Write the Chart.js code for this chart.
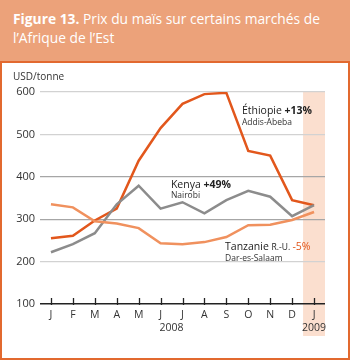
<!DOCTYPE html>
<html>
<head>
<meta charset="utf-8">
<script src="https://cdn.jsdelivr.net/npm/chart.js@4"></script>
<style>
  body { margin: 0; width: 350px; height: 360px; position: relative; overflow: hidden; background: #fff; font-family: "Open Sans", sans-serif; }
  #title { position: absolute; left: 0; top: 0; width: 350px; height: 61px; background: #eca27a; color: #fff;
           font-size: 13.8px; line-height: 19px; padding: 9px 0 0 13px; box-sizing: border-box; }
  #title b { font-weight: 700; }
  #frame { position: absolute; left: 0; top: 61px; width: 350px; height: 299px; border: 2px solid #e2692f; box-sizing: border-box; }
  #wrap { position: absolute; left: 0; top: 0; width: 350px; height: 360px; }
</style>
</head>
<body>
<div id="title"><b>Figure 13.</b> Prix du maïs sur certains marchés de<br>l’Afrique de l’Est</div>
<div id="frame"></div>
<div id="wrap"><canvas id="chart"></canvas></div>
<script>
// monthly maize prices, USD/tonne, Jan 2008 - Jan 2009
const months = ['J', 'F', 'M', 'A', 'M', 'J', 'J', 'A', 'S', 'O', 'N', 'D', 'J'];
const ethiopia = [255, 261, 297, 325, 438, 515, 572, 595, 598, 461, 450, 345, 333];
const kenya = [222, 241, 267, 335, 379, 325, 340, 314, 345, 367, 353, 307, 333];
const tanzania = [335, 328, 295, 290, 279, 243, 241, 246, 258, 286, 287, 298, 317];
const yTicks = [100, 200, 300, 400, 500, 600];

const FONT = '"Open Sans", sans-serif';

// shaded 2009 column, tick marks, labels
const extras = {
  id: 'extras',
  beforeDraw(chart) {
    const { ctx, chartArea, scales } = chart;
    const x = scales.x;
    const left = (x.getPixelForValue(11) + x.getPixelForValue(12)) / 2;
    ctx.save();
    ctx.fillStyle = '#fbdfcf';
    ctx.fillRect(left, chartArea.top, chartArea.right - left, 336 - chartArea.top);
    ctx.restore();
  },
  afterDraw(chart) {
    const { ctx, chartArea, scales } = chart;
    const x = scales.x, y = scales.y;
    ctx.save();
    // tick marks
    ctx.strokeStyle = '#222';
    ctx.lineWidth = 1.3;
    months.forEach((m, i) => {
      const px = Math.round(x.getPixelForValue(i)) + 0.5;
      ctx.beginPath();
      ctx.moveTo(px, chartArea.bottom - 6);
      ctx.lineTo(px, chartArea.bottom + 1);
      ctx.stroke();
    });
    ctx.fillStyle = '#333';
    ctx.textBaseline = 'middle';
    ctx.font = '10px ' + FONT;
    ctx.fillText('USD/tonne', 13, 77);
    ctx.textAlign = 'center';
    ctx.font = '10.5px ' + FONT;
    ctx.fillText('2008', x.getPixelForValue(5.5), 328);
    ctx.fillText('2009', x.getPixelForValue(12), 328);
    ctx.textAlign = 'left';

    function label(idx, val, parts, sub) {
      let px = x.getPixelForValue(idx);
      const py = y.getPixelForValue(val);
      parts.forEach(p => {
        ctx.font = (p.bold ? 'bold ' : '') + (p.size || 10.5) + 'px ' + FONT;
        ctx.fillStyle = p.color || '#222';
        ctx.fillText(p.text, px, py);
        px += ctx.measureText(p.text).width;
      });
      ctx.font = '8.5px ' + FONT;
      ctx.fillStyle = '#333';
      ctx.fillText(sub, x.getPixelForValue(idx), py + 11);
    }
    label(8.71, 555, [{ text: 'Éthiopie ' }, { text: '+13%', bold: true }], 'Addis-Abeba');
    label(5.47, 381, [{ text: 'Kenya ' }, { text: '+49%', bold: true }], 'Nairobi');
    label(7.94, 234, [{ text: 'Tanzanie ' }, { text: 'R.-U. ', size: 8.5 }, { text: '-5%', color: '#e2571c' }], 'Dar-es-Salaam');
    ctx.restore();
  }
};

new Chart(document.getElementById('chart'), {
  type: 'line',
  data: {
    labels: months,
    datasets: [
      { label: 'Tanzanie', data: tanzania, borderColor: '#f0915e', borderWidth: 2.5 },
      { label: 'Kenya', data: kenya, borderColor: '#8c8c8c', borderWidth: 2.5 },
      { label: 'Éthiopie', data: ethiopia, borderColor: '#e2571c', borderWidth: 2.5 },
    ],
  },
  options: {
    responsive: true,
    maintainAspectRatio: false,
    animation: false,
    elements: { point: { radius: 0 }, line: { tension: 0 } },
    layout: { padding: { top: 92, right: 25, bottom: 0, left: 0 } },
    plugins: { legend: { display: false }, tooltip: { enabled: false } },
    scales: {
      x: {
        offset: true,
        grid: { display: false, drawTicks: false },
        border: { display: false },
        ticks: { color: '#333', font: { family: FONT, size: 10.5 }, padding: 5, maxRotation: 0, autoSkip: false },
        afterFit: (s) => { s.height = 56; },
      },
      y: {
        min: 100,
        max: 600,
        afterBuildTicks: (s) => { s.ticks = yTicks.map(v => ({ value: v })); },
        grid: {
          drawTicks: false,
          color: (c) => c.tick.value === 100 ? '#222' : (c.tick.value === 300 || c.tick.value === 400 ? '#a6a6a6' : '#d2d2d2'),
          lineWidth: (c) => c.tick.value === 100 ? 1.5 : 1.3,
        },
        border: { display: false },
        ticks: { color: '#333', font: { family: FONT, size: 11 }, padding: 5 },
        afterFit: (s) => { s.width = 40; },
      },
    },
  },
  plugins: [extras],
});
</script>
</body>
</html>
